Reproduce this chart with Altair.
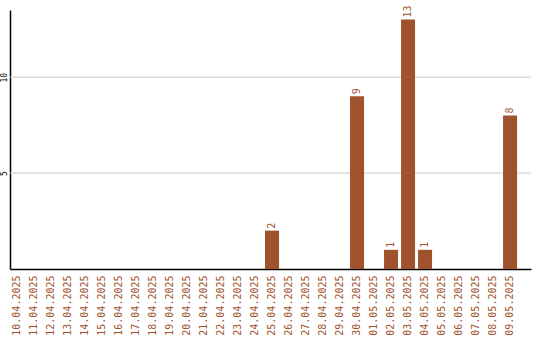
import altair as alt
import pandas as pd

dates = ["10.04.2025", "11.04.2025", "12.04.2025", "13.04.2025", "14.04.2025",
         "15.04.2025", "16.04.2025", "17.04.2025", "18.04.2025", "19.04.2025",
         "20.04.2025", "21.04.2025", "22.04.2025", "23.04.2025", "24.04.2025",
         "25.04.2025", "26.04.2025", "27.04.2025", "28.04.2025", "29.04.2025",
         "30.04.2025", "01.05.2025", "02.05.2025", "03.05.2025", "04.05.2025",
         "05.05.2025", "06.05.2025", "07.05.2025", "08.05.2025", "09.05.2025"]
counts = [0, 0, 0, 0, 0, 0, 0, 0, 0, 0, 0, 0, 0, 0, 0,
          2, 0, 0, 0, 0, 9, 0, 1, 13, 1, 0, 0, 0, 0, 8]
grid_values = [5, 10]

df = pd.DataFrame({"date": dates, "count": counts})
grid_df = pd.DataFrame({"v": grid_values})

COLOR = "#A0522D"
FONT = "DejaVu Sans Mono"

x = alt.X("date:N", sort=dates, title=None,
          scale=alt.Scale(paddingInner=0.176, paddingOuter=0.41, align=0),
          axis=alt.Axis(labelAngle=-90, labelColor=COLOR, labelFont=FONT,
                        labelFontSize=10, ticks=False, labelPadding=6,
                        domain=True, domainColor="#000", domainWidth=1.5,
                        labelBaseline="middle", labelAlign="right"))
y = alt.Y("count:Q", title=None,
          scale=alt.Scale(domain=[0, 13.5], nice=False),
          axis=alt.Axis(values=grid_values, grid=False, ticks=False,
                        labelAngle=-90, labelFont=FONT, labelFontSize=8,
                        labelColor="#000", labelPadding=2,
                        domainColor="#000", domainWidth=1.5))

grid = alt.Chart(grid_df).mark_rule(color="#c8c8c8", strokeWidth=1).encode(
    y=alt.Y("v:Q", scale=alt.Scale(domain=[0, 13.5], nice=False)),
    x=alt.value(0), x2=alt.value(521))

bars = alt.Chart(df).mark_bar(color=COLOR).encode(x=x, y=y)

labels = alt.Chart(df).transform_filter(alt.datum["count"] > 0).mark_text(
    angle=270, align="left", baseline="middle", dx=2,
    color=COLOR, font=FONT, fontSize=10).encode(
    x=alt.X("date:N", sort=dates),
    y=alt.Y("count:Q"),
    text="count:Q")

chart = alt.layer(grid, bars, labels).properties(
    width=521, height=259,
    autosize=alt.AutoSizeParams(type="none"),
    padding={"left": 10, "top": 10, "right": 9, "bottom": 71},
    background="white",
).configure_view(stroke=None)

chart.save("out.html", embed_options={"renderer": "svg", "actions": False})
